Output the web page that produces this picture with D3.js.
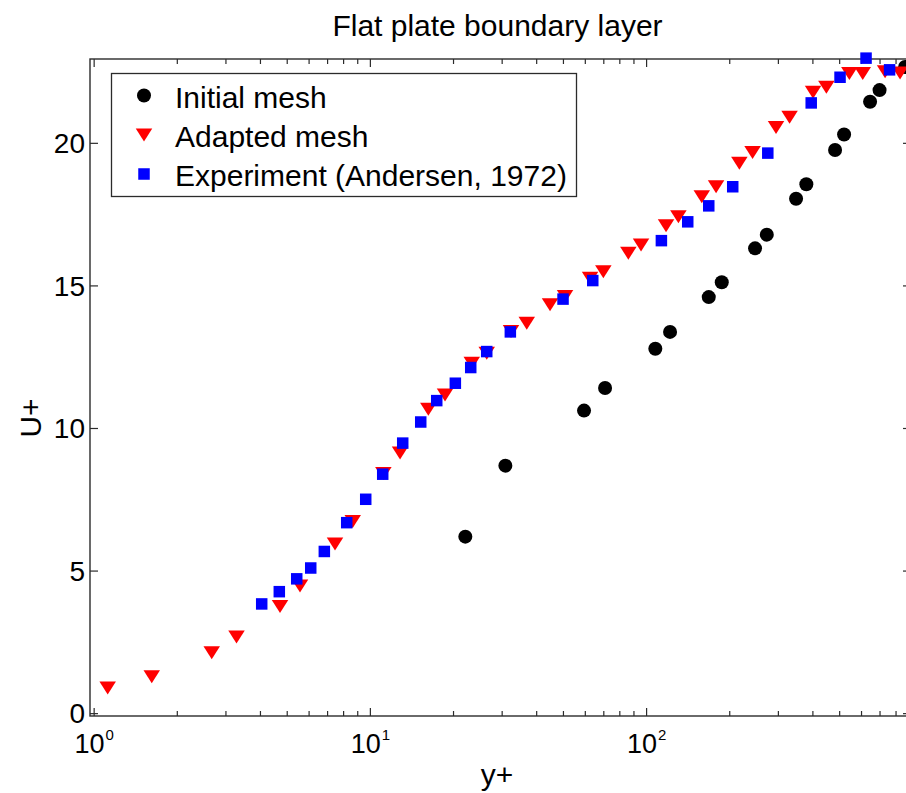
<!DOCTYPE html>
<html>
<head>
<meta charset="utf-8">
<script src="https://cdn.jsdelivr.net/npm/d3@7"></script>
<style>
  html, body { margin: 0; padding: 0; background: #fff; }
  svg { display: block; font-family: "Liberation Sans", Arial, Helvetica, sans-serif; }
</style>
</head>
<body>
<svg id="chart" width="906" height="793"></svg>
<script>
// Initial mesh (y+, U+)
const initialYplus = [22.16, 30.94, 59.61, 71.03, 108.0, 122.1, 168.6, 187.9, 248.0, 273.5,
                      349.1, 380.3, 483.2, 520.9, 647.0, 700.2, 866.2];
const initialUplus = [6.19, 8.68, 10.61, 11.40, 12.78, 13.37, 14.59, 15.11, 16.30, 16.78,
                      18.04, 18.55, 19.75, 20.29, 21.44, 21.85, 22.66];

// Adapted mesh (y+, U+)
const adaptedYplus = [1.124, 1.623, 2.676, 3.290, 4.728, 5.585, 7.478, 8.668, 11.19, 12.86,
                      16.28, 18.71, 23.38, 26.49, 32.43, 36.98, 44.90, 50.88, 62.68, 70.02,
                      86.25, 95.87, 118.1, 130.9, 159.1, 179.2, 217.6, 242.9, 295.4, 330.7,
                      402.2, 449.4, 544.4, 608.6, 733.1, 830.6];
const adaptedUplus = [0.88, 1.28, 2.12, 2.67, 3.74, 4.46, 5.93, 6.72, 8.40, 9.12,
                      10.66, 11.16, 12.27, 12.62, 13.38, 13.67, 14.32, 14.61, 15.25, 15.48,
                      16.13, 16.42, 17.09, 17.41, 18.11, 18.46, 19.28, 19.66, 20.54, 20.90,
                      21.77, 21.95, 22.43, 22.43, 22.49, 22.45];

// Experiment, Andersen 1972 (y+, U+)
const experimentYplus = [4.059, 4.700, 5.435, 6.108, 6.841, 8.245, 9.660, 11.13, 13.15, 15.28,
                         17.46, 20.39, 23.18, 26.49, 32.25, 50.04, 64.11, 113.6, 141.5, 168.6,
                         205.9, 275.8, 396.1, 503.7, 625.6, 761.1];
const experimentUplus = [3.83, 4.26, 4.71, 5.09, 5.67, 6.68, 7.50, 8.38, 9.47, 10.21,
                         10.96, 11.57, 12.12, 12.68, 13.37, 14.52, 15.17, 16.57, 17.23, 17.79,
                         18.46, 19.64, 21.40, 22.30, 22.97, 22.56];

const seriesNames = ["Initial mesh", "Adapted mesh", "Experiment (Andersen, 1972)"];
const xMajorTicks = [1, 10, 100];
const xTickExponents = ["0", "1", "2"];
const yTicks = [0, 5, 10, 15, 20];
const titleText = "Flat plate boundary layer";
const xLabel = "y+";
const yLabel = "U+";

const svg = d3.select("#chart");
const plotLeft = 90, plotRight = 911, plotTop = 59, plotBottom = 716;

const x = d3.scaleLog().domain([0.97, 910]).range([plotLeft, plotRight]);
const y = d3.scaleLinear().domain([-0.1, 22.94]).range([plotBottom, plotTop]);

// minor ticks 2..9 in each decade that falls inside the domain
const xMinorTicks = [];
[1, 10, 100].forEach(d => {
  for (let k = 2; k <= 9; k++) { const v = k * d; if (v <= x.domain()[1]) xMinorTicks.push(v); }
});

const axisColor = "#2b2b2b";

function styleAxis(g) {
  g.select(".domain").remove();
  g.selectAll(".tick line").attr("stroke", axisColor).attr("stroke-width", 1.2);
}

// bottom axis (major with labels, minor without)
const gBottom = svg.append("g").attr("transform", `translate(0,${plotBottom})`)
  .call(d3.axisBottom(x).tickValues(xMajorTicks).tickSizeInner(-8).tickSizeOuter(0).tickFormat(() => ""))
  .call(styleAxis);
gBottom.selectAll(".tick text").remove();
gBottom.selectAll(".tick").each(function (d, i) {
  const t = d3.select(this).append("text")
    .attr("y", 37).attr("fill", "#000").attr("text-anchor", "middle")
    .style("font-size", "27px");
  t.append("tspan").text("10");
  t.append("tspan").attr("dy", -13).attr("dx", 1).style("font-size", "15px").text(xTickExponents[i]);
});
svg.append("g").attr("transform", `translate(0,${plotBottom})`)
  .call(d3.axisBottom(x).tickValues(xMinorTicks).tickSizeInner(-5).tickSizeOuter(0).tickFormat(""))
  .call(styleAxis);

// top axis
svg.append("g").attr("transform", `translate(0,${plotTop})`)
  .call(d3.axisTop(x).tickValues(xMajorTicks).tickSizeInner(-8).tickSizeOuter(0).tickFormat(""))
  .call(styleAxis);
svg.append("g").attr("transform", `translate(0,${plotTop})`)
  .call(d3.axisTop(x).tickValues(xMinorTicks).tickSizeInner(-5).tickSizeOuter(0).tickFormat(""))
  .call(styleAxis);

// left axis with labels
const gLeft = svg.append("g").attr("transform", `translate(${plotLeft},0)`)
  .call(d3.axisLeft(y).tickValues(yTicks).tickSizeInner(-8).tickSizeOuter(0).tickPadding(5).tickFormat(d3.format("d")))
  .call(styleAxis);
gLeft.selectAll(".tick text")
  .attr("fill", "#000").attr("dy", "0.35em")
  .style("font-size", "28px").style("font-family", "'Liberation Sans', Arial, sans-serif");

// right axis
svg.append("g").attr("transform", `translate(${plotRight},0)`)
  .call(d3.axisRight(y).tickValues(yTicks).tickSizeInner(-8).tickSizeOuter(0).tickFormat(""))
  .call(styleAxis);

// axes box
svg.append("rect")
  .attr("x", plotLeft).attr("y", plotTop)
  .attr("width", plotRight - plotLeft).attr("height", plotBottom - plotTop)
  .attr("fill", "none").attr("stroke", axisColor).attr("stroke-width", 1.4);

// markers
const circleR = 7;
const triW = 16.5, triH = 13;
const sq = 11.5;
const triPath = `M${-triW / 2},${-triH / 2} L${triW / 2},${-triH / 2} L0,${triH / 2} Z`;

const pts = (xs, ys) => xs.map((v, i) => ({ x: v, u: ys[i] }));

const gData = svg.append("g");
gData.append("g").selectAll("circle")
  .data(pts(initialYplus, initialUplus)).join("circle")
  .attr("cx", d => x(d.x)).attr("cy", d => y(d.u)).attr("r", circleR)
  .attr("fill", "#000");

gData.append("g").selectAll("path")
  .data(pts(adaptedYplus, adaptedUplus)).join("path")
  .attr("transform", d => `translate(${x(d.x)},${y(d.u)})`)
  .attr("d", triPath).attr("fill", "#ff0000");

gData.append("g").selectAll("rect")
  .data(pts(experimentYplus, experimentUplus)).join("rect")
  .attr("x", d => x(d.x) - sq / 2).attr("y", d => y(d.u) - sq / 2)
  .attr("width", sq).attr("height", sq)
  .attr("fill", "#0000ff");

// legend
const legend = svg.append("g");
legend.append("rect")
  .attr("x", 111.5).attr("y", 73.5).attr("width", 465).attr("height", 123)
  .attr("fill", "#fff").attr("stroke", axisColor).attr("stroke-width", 1.3);
const rowBase = [108, 147, 186];
const markerX = 144;
legend.append("circle").attr("cx", markerX).attr("cy", rowBase[0] - 12.5).attr("r", circleR).attr("fill", "#000");
legend.append("path").attr("transform", `translate(${markerX},${rowBase[1] - 12})`).attr("d", triPath).attr("fill", "#ff0000");
legend.append("rect").attr("x", markerX - sq / 2).attr("y", rowBase[2] - 12 - sq / 2).attr("width", sq).attr("height", sq).attr("fill", "#0000ff");
legend.selectAll("text.entry").data(seriesNames).join("text")
  .attr("class", "entry")
  .attr("x", 175).attr("y", (d, i) => rowBase[i])
  .attr("fill", "#000").style("font-size", "30px")
  .text(d => d);

// title and axis labels
svg.append("text").attr("x", 497.5).attr("y", 36).attr("text-anchor", "middle")
  .attr("fill", "#000").style("font-size", "30px").text(titleText);
svg.append("text").attr("x", 497).attr("y", 785).attr("text-anchor", "middle")
  .attr("fill", "#000").style("font-size", "30px").text(xLabel);
svg.append("text").attr("transform", "translate(41,418) rotate(-90)").attr("text-anchor", "middle")
  .attr("fill", "#000").style("font-size", "30px").text(yLabel);
</script>
</body>
</html>
